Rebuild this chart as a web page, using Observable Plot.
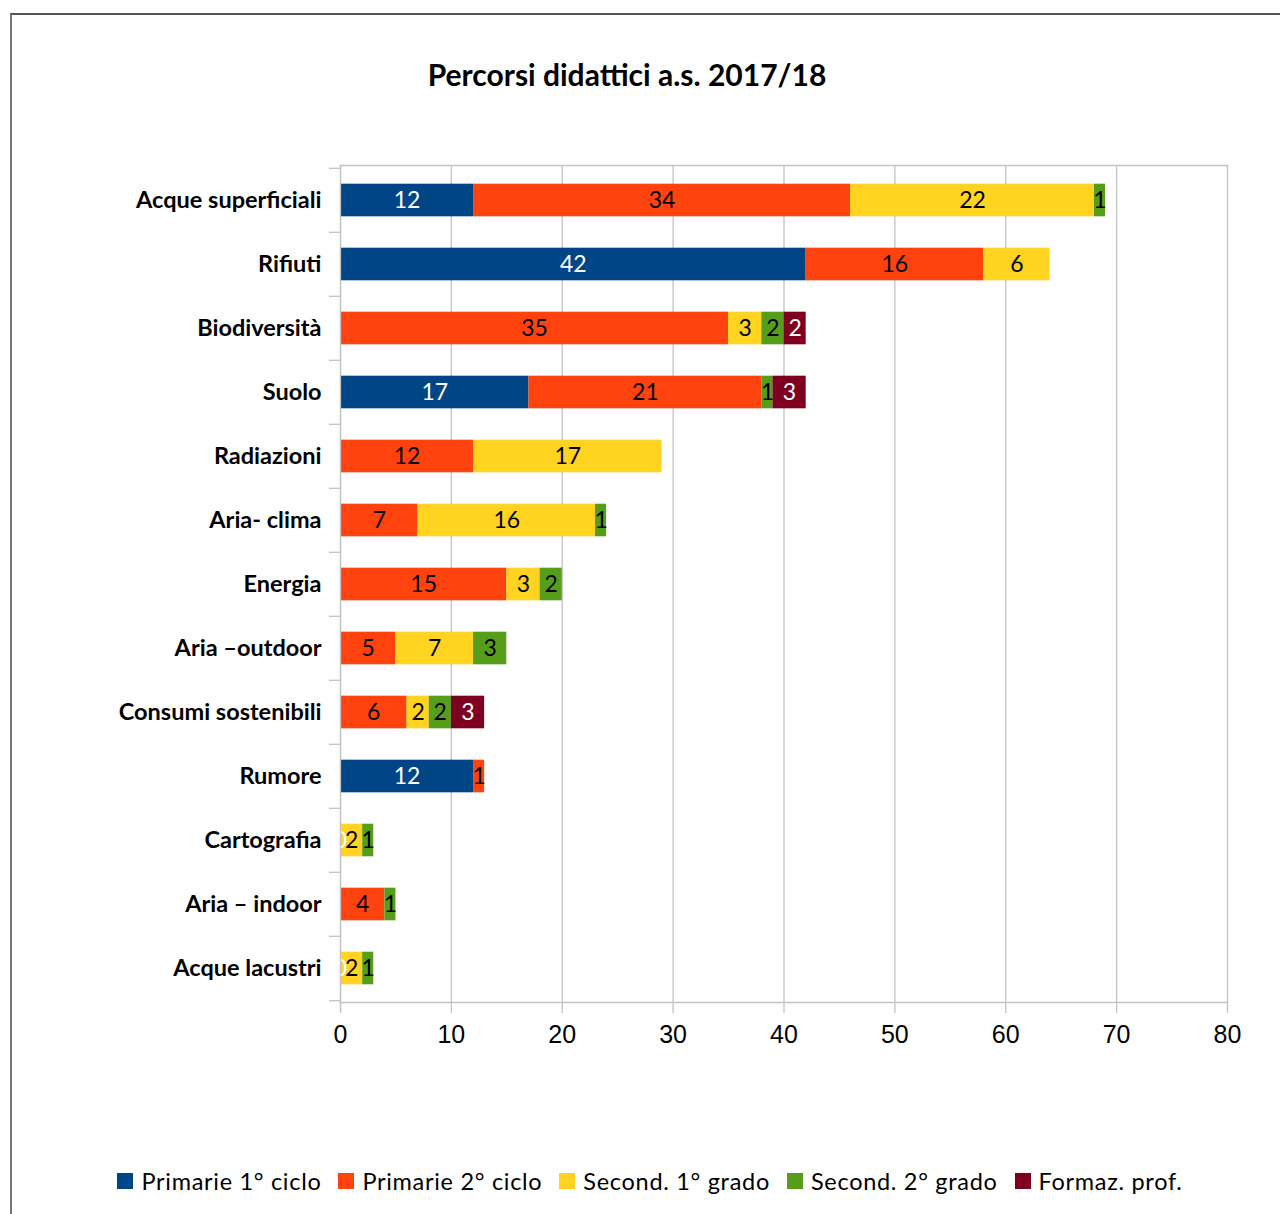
<!DOCTYPE html>
<html><head><meta charset="utf-8">
<script src="https://cdn.jsdelivr.net/npm/d3@7"></script>
<script src="https://cdn.jsdelivr.net/npm/@observablehq/plot@0.6"></script>
<style>
body{margin:0;background:#fff;width:1280px;height:1214px;position:relative;overflow:hidden;font-family:Lato,sans-serif;}
#border{position:absolute;left:10px;top:13px;width:1400px;height:1400px;border-left:2px solid #777;border-top:2px solid #555;box-sizing:border-box;}
#title{position:absolute;top:58px;left:0;width:1254px;height:32px;line-height:32px;text-align:center;font-weight:bold;font-size:30px;color:#000;}
#chart{position:absolute;left:0;top:0;}
#legend{position:absolute;top:1166px;left:0;width:1300px;height:30px;display:flex;justify-content:center;align-items:center;gap:17px;font-size:23.5px;letter-spacing:0.7px;color:#000;}
.item{display:flex;align-items:center;white-space:nowrap;}
.sw{width:16px;height:16px;margin-right:8px;display:inline-block;}
</style></head>
<body>
<div id="border"></div>
<div id="chart"></div>
<div id="title">Percorsi didattici a.s. 2017/18</div>
<div id="legend"></div>
<script>
const categories = ["Acque superficiali","Rifiuti","Biodiversità","Suolo","Radiazioni","Aria- clima","Energia","Aria –outdoor","Consumi sostenibili","Rumore","Cartografia","Aria – indoor","Acque lacustri"];
const seriesNames = ["Primarie 1° ciclo","Primarie 2° ciclo","Second. 1° grado","Second. 2° grado","Formaz. prof."];
const seriesColors = ["#004586","#ff420e","#ffd320","#579d1c","#7e0021"];
const primarie1 = [12,42,null,17,null,null,null,null,null,12,0,null,0];
const primarie2 = [34,16,35,21,12,7,15,5,6,1,null,4,null];
const second1   = [22,6,3,null,17,16,3,7,2,null,2,null,2];
const second2   = [1,null,2,1,null,1,2,3,2,null,1,1,1];
const formaz    = [null,null,2,3,null,null,null,null,3,null,null,null,null];
const xTicks = [0,10,20,30,40,50,60,70,80];

const seriesValues = [primarie1, primarie2, second1, second2, formaz];
const whiteText = new Set(["Primarie 1° ciclo","Formaz. prof."]);
const data = [];
categories.forEach((c, i) => {
  seriesNames.forEach((s, j) => {
    const v = seriesValues[j][i];
    data.push({cat: c, series: s, value: v ?? 0, label: v == null ? null : String(v)});
  });
});

const W = 1280, H = 1070, mT = 165, mB = 68, mL = 340, mR = 53;
const rowH = (H - mT - mB) / categories.length;
const inset = (rowH - 33) / 2;
const grid = "#c3c3c3";

const stackOpts = {x: "value", y: "cat", z: "series", order: seriesNames};

const plot = Plot.plot({
  width: W, height: H,
  marginTop: mT, marginBottom: mB, marginLeft: mL, marginRight: mR,
  style: {background: "transparent", overflow: "visible"},
  x: {domain: [0, 80], ticks: xTicks},
  y: {domain: categories, padding: 0, label: null},
  color: {domain: seriesNames, range: seriesColors},
  marks: [
    Plot.gridX(xTicks, {stroke: grid, strokeOpacity: 1, strokeWidth: 1.3}),
    Plot.frame({anchor: "top", stroke: grid, strokeWidth: 1.3}),
    Plot.frame({anchor: "bottom", stroke: grid, strokeWidth: 1.3}),
    Plot.barX(data, Plot.stackX({...stackOpts, fill: "series", insetTop: inset, insetBottom: inset})),
    Plot.text(data, Plot.stackX({...stackOpts, text: d => whiteText.has(d.series) ? d.label : null, fill: "white", fontSize: 23, fontFamily: "Lato"})),
    Plot.text(data, Plot.stackX({...stackOpts, text: d => whiteText.has(d.series) ? null : d.label, fill: "black", fontSize: 23, fontFamily: "Lato"})),
    Plot.ruleX([0], {stroke: grid, strokeWidth: 1.3, insetBottom: -11}),
    Plot.axisX(xTicks, {tickSize: 11, tickPadding: 12, stroke: grid, strokeWidth: 1.3, fontSize: 25, fontFamily: "Liberation Sans", fill: "black", label: null, color: "black"}),
    Plot.axisY({tickSize: 0, tickPadding: 19, fontSize: 23.5, fontWeight: "bold", fontFamily: "Lato", label: null, fill: "black"}),
    Plot.axisY({text: null, tickSize: 11, dy: -rowH / 2, stroke: grid, strokeWidth: 1.3, label: null}),
    Plot.axisY([categories[categories.length - 1]], {text: null, tickSize: 11, dy: rowH / 2, stroke: grid, strokeWidth: 1.3, label: null})
  ]
});
document.getElementById("chart").appendChild(plot);

const leg = document.getElementById("legend");
seriesNames.forEach((s, j) => {
  const it = document.createElement("div");
  it.className = "item";
  const sw = document.createElement("span");
  sw.className = "sw";
  sw.style.background = seriesColors[j];
  it.appendChild(sw);
  it.appendChild(document.createTextNode(s));
  leg.appendChild(it);
});
</script>
</body></html>
